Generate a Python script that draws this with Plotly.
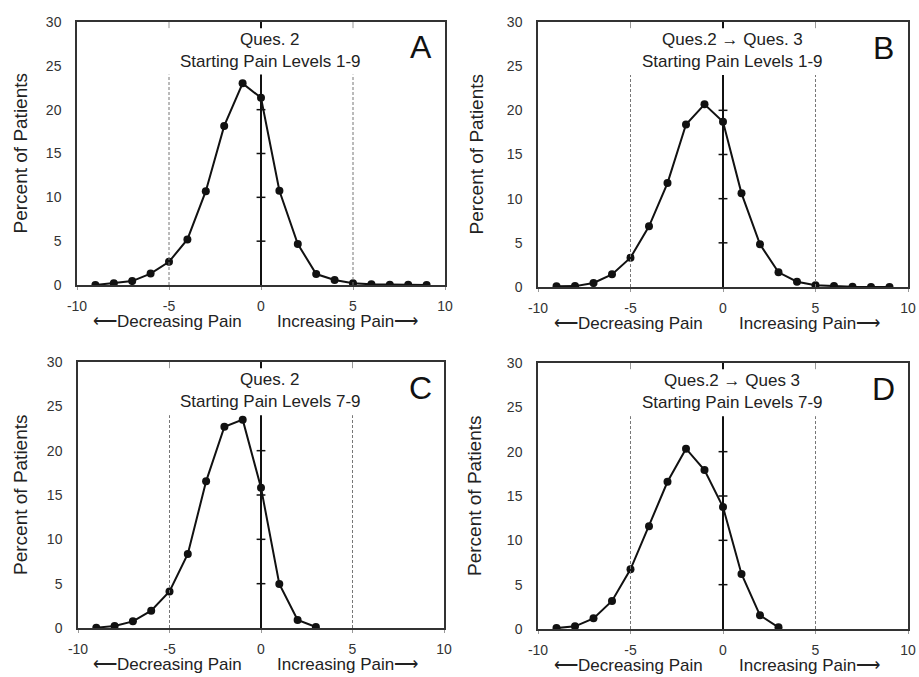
import plotly.graph_objects as go

# ---- data ----
change_full = [-9, -8, -7, -6, -5, -4, -3, -2, -1, 0, 1, 2, 3, 4, 5, 6, 7, 8, 9]
change_high = [-9, -8, -7, -6, -5, -4, -3, -2, -1, 0, 1, 2, 3]

pct_A = [0.0, 0.2, 0.45, 1.3, 2.65, 5.2, 10.7, 18.15, 23.0, 21.35, 10.75, 4.67, 1.25, 0.57, 0.19, 0.08, 0.04, 0.02, 0.01]
pct_B = [0.08, 0.1, 0.45, 1.43, 3.32, 6.87, 11.77, 18.4, 20.68, 18.7, 10.6, 4.83, 1.66, 0.6, 0.19, 0.1, 0.02, 0.01, 0.01]
pct_C = [0.04, 0.22, 0.75, 1.95, 4.13, 8.35, 16.54, 22.7, 23.5, 15.83, 4.96, 0.9, 0.11]
pct_D = [0.1, 0.3, 1.2, 3.16, 6.73, 11.58, 16.6, 20.34, 17.93, 13.76, 6.2, 1.54, 0.19]

panel_letters = ["A", "B", "C", "D"]
title_line1 = ["Ques. 2", "Ques.2 \u2192 Ques. 3", "Ques. 2", "Ques.2 \u2192 Ques 3"]
title_line2 = ["Starting Pain Levels 1-9", "Starting Pain Levels 1-9",
               "Starting Pain Levels 7-9", "Starting Pain Levels 7-9"]
x_ticks = [-10, -5, 0, 5, 10]
x_tick_labels = ["-10", "-5", "0", "5", "10"]
y_ticks = [0, 5, 10, 15, 20, 25, 30]
center_ticks = [5, 10, 15, 20]
dashed_at = [-5, 5]
ref_top = 24
y_title = "Percent of Patients"
left_label = "\u27f5Decreasing Pain"
right_label = "Increasing Pain\u27f6"

W, H = 919, 677
# plot-area pixel boxes (left, right, top, bottom) and y-title offsets
boxes = [(77, 445, 22, 285), (538, 908, 22, 287), (78, 444, 362, 628), (538, 908, 363, 629)]
ytitle_offset = [57, 62, 58, 63]

xs = [change_full, change_full, change_high, change_high]
ys = [pct_A, pct_B, pct_C, pct_D]

FONT = "Liberation Sans, Arial, sans-serif"
fig = go.Figure()
shapes = []
annotations = []
layout = {}

for i in range(4):
    n = "" if i == 0 else str(i + 1)
    xa, ya = "x" + n, "y" + n
    l, r, t, b = boxes[i]
    dx = [l / W, r / W]
    dy = [1 - b / H, 1 - t / H]
    fig.add_trace(go.Scatter(
        x=xs[i], y=ys[i], mode="lines+markers", xaxis=xa, yaxis=ya,
        line=dict(color="#111111", width=2),
        marker=dict(color="#111111", size=8),
        showlegend=False, hoverinfo="x+y"))
    layout["xaxis" + n] = dict(
        domain=dx, range=[-10, 10], anchor=ya, tickvals=x_ticks, ticktext=x_tick_labels,
        automargin=False,
        showgrid=False, zeroline=False, showline=True, linecolor="#333333", linewidth=1.5,
        mirror=True, ticks="outside", ticklen=3, tickcolor="#999999",
        tickfont=dict(family=FONT, size=14, color="#333333"), ticklabelstandoff=4)
    layout["yaxis" + n] = dict(
        domain=dy, range=[0, 30], anchor=xa, tickvals=y_ticks, automargin=False,
        showgrid=False, zeroline=False, showline=True, linecolor="#333333", linewidth=1.5,
        mirror=True, ticks="",
        tickfont=dict(family=FONT, size=14, color="#333333"), ticklabelstandoff=11)
    # central solid axis line at x=0
    shapes.append(dict(type="line", xref=xa, yref=ya, x0=0, x1=0, y0=0, y1=ref_top,
                       line=dict(color="#111111", width=2)))
    for v in center_ticks:
        shapes.append(dict(type="line", xref=xa, yref=ya, x0=-0.24, x1=0.24, y0=v, y1=v,
                           line=dict(color="#111111", width=1.5)))
    for v in dashed_at:
        shapes.append(dict(type="line", xref=xa, yref=ya, x0=v, x1=v, y0=0, y1=ref_top,
                           line=dict(color="#777777", width=1, dash="3px,2px")))
    # small top ticks
    for v in [-5, 0, 5]:
        shapes.append(dict(type="line", xref=xa, yref=ya, x0=v, x1=v, y0=29.3, y1=30,
                           line=dict(color="#111111" if v == 0 else "#999999",
                                     width=2 if v == 0 else 1)))
    # titles
    annotations.append(dict(x=0.5, y=28.0, xref=xa, yref=ya, text=title_line1[i], showarrow=False,
                            font=dict(family=FONT, size=17, color="#222222")))
    annotations.append(dict(x=0.5, y=25.5, xref=xa, yref=ya, text=title_line2[i], showarrow=False,
                            font=dict(family=FONT, size=17, color="#222222")))
    annotations.append(dict(x=8.7, y=27.1, xref=xa, yref=ya, text=panel_letters[i], showarrow=False,
                            font=dict(family=FONT, size=32, color="#111111")))
    # y title
    annotations.append(dict(x=(l - ytitle_offset[i]) / W, y=(dy[0] + dy[1]) / 2,
                            xref="paper", yref="paper", xanchor="center", yanchor="middle",
                            text=y_title, textangle=-90, showarrow=False,
                            font=dict(family=FONT, size=19, color="#222222")))
    # direction labels
    annotations.append(dict(x=-5.1, y=0, xref=xa, yref=ya, yshift=-36, text=left_label,
                            showarrow=False, font=dict(family=FONT, size=17, color="#222222")))
    annotations.append(dict(x=4.7, y=0, xref=xa, yref=ya, yshift=-36, text=right_label,
                            showarrow=False, font=dict(family=FONT, size=17, color="#222222")))

fig.update_layout(
    width=W, height=H, margin=dict(l=0, r=0, t=0, b=0),
    paper_bgcolor="white", plot_bgcolor="white",
    shapes=shapes, annotations=annotations, **layout)

fig.write_html("out.html", config={"displayModeBar": False},
               post_script="document.body.style.margin='0px';document.body.style.overflow='hidden';")
